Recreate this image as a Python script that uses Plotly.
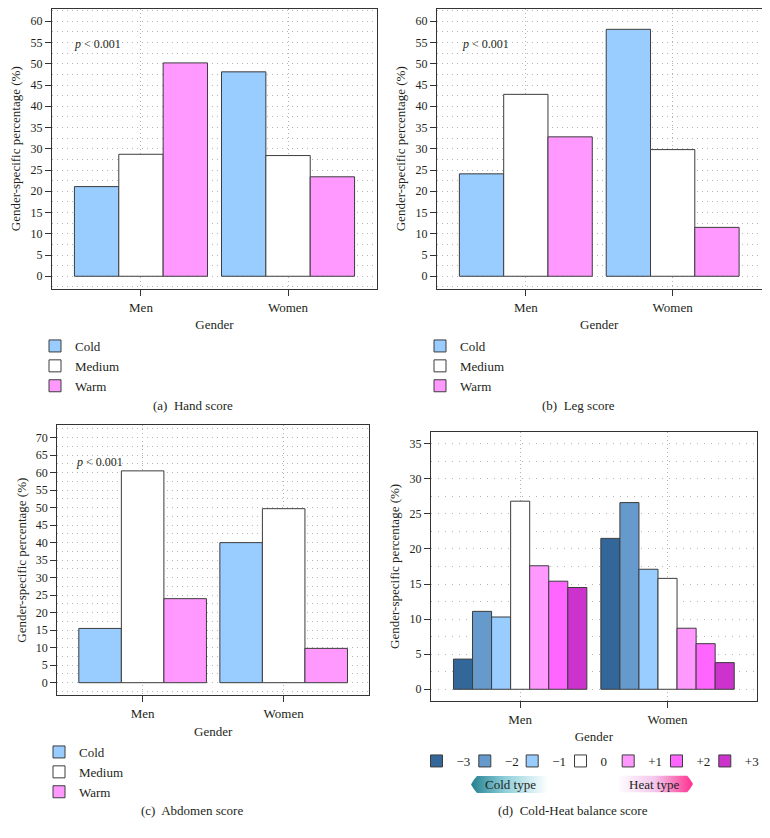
import base64
import plotly.graph_objects as go

# ---------------- data ----------------
categories = ["Men", "Women"]
three_labels = ["Cold", "Medium", "Warm"]

hand_cold = [21.1, 48.1]
hand_medium = [28.7, 28.4]
hand_warm = [50.2, 23.4]

leg_cold = [24.1, 58.1]
leg_medium = [42.8, 29.8]
leg_warm = [32.8, 11.5]

abd_cold = [15.5, 40.0]
abd_medium = [60.5, 49.7]
abd_warm = [24.0, 9.8]

balance_labels = ["\u22123", "\u22122", "\u22121", "0", "+1", "+2", "+3"]
balance_men = [4.3, 11.1, 10.3, 26.8, 17.6, 15.4, 14.5]
balance_women = [21.5, 26.6, 17.1, 15.8, 8.7, 6.5, 3.8]

captions = ["(a)  Hand score", "(b)  Leg score", "(c)  Abdomen score", "(d)  Cold-Heat balance score"]
p_text = "<i>p</i> &lt; 0.001"

# ---------------- styles ----------------
FONT = "Liberation Serif"
TXT = "#231f20"
three_colors = ["#99CCFF", "#FFFFFF", "#FF99FF"]
balance_colors = ["#336699", "#6699CC", "#99CCFF", "#FFFFFF", "#FF99FF", "#FF66FF", "#CC33CC"]
OUTLINE = "#3c3c3c"
GRID = "#b4b4b4"

# page is 770x838; the page body adds an 8px offset, so the figure is 762x822
OFF = 8
W, H = 762, 822
def px(x): return (x - OFF) / W
def py(y): return 1 - (y - OFF) / H

fig = go.Figure()

panels = [
    dict(xa="x", ya="y", leg="legend", series=[hand_cold, hand_medium, hand_warm]),
    dict(xa="x2", ya="y2", leg="legend2", series=[leg_cold, leg_medium, leg_warm]),
    dict(xa="x3", ya="y3", leg="legend3", series=[abd_cold, abd_medium, abd_warm]),
]
for p in panels:
    for lab, vals, col in zip(three_labels, p["series"], three_colors):
        fig.add_trace(go.Bar(
            x=categories, y=vals, name=lab, xaxis=p["xa"], yaxis=p["ya"],
            legend=p["leg"], marker=dict(color=col, line=dict(color=OUTLINE, width=1)),
            hoverinfo="skip"))

for i, lab in enumerate(balance_labels):
    fig.add_trace(go.Bar(
        x=categories, y=[balance_men[i], balance_women[i]], name=lab,
        xaxis="x4", yaxis="y4", legend="legend" + str(4 + i),
        marker=dict(color=balance_colors[i], line=dict(color=OUTLINE, width=1)),
        hoverinfo="skip"))

# axis geometry (pixel frames in page coordinates)
frames = {
    1: (52, 377, 8.5, 289, [-3, 63], "1px,4px"),
    2: (437, 761.5, 8.5, 289, [-3, 63], "1px,4px"),
    3: (57.3, 369, 425, 695.3, [-3.6, 73.6], "1px,4px"),
    4: (431, 756.7, 431.7, 701, [-1.67, 36.7], "1px,6px"),
}
layout_axes = {}
for k, (x0, x1, y0, y1, yr, dash) in frames.items():
    sfx = "" if k == 1 else str(k)
    layout_axes["xaxis" + sfx] = dict(
        domain=[px(x0), px(x1)], anchor="y" + sfx, range=[-0.605, 1.605],
        showline=True, mirror=True, linecolor="#333333", linewidth=1.2,
        ticks="outside", ticklen=6, tickcolor="#333333", tickwidth=1,
        showgrid=True, gridcolor=GRID, griddash="1px,3px", gridwidth=1,
        tickfont=dict(family=FONT, size=13, color=TXT),
        title=dict(text="Gender", font=dict(family=FONT, size=13, color=TXT), standoff=6),
        automargin=False, fixedrange=True)
    layout_axes["yaxis" + sfx] = dict(
        domain=[py(y1), py(y0)], anchor="x" + sfx, range=yr,
        dtick=5, tick0=0,
        showline=True, mirror=True, linecolor="#333333", linewidth=1.2,
        ticks="outside", ticklen=6, tickcolor="#333333", tickwidth=1,
        showgrid=True, gridcolor=GRID, griddash=dash, gridwidth=1,
        minor=dict(dtick=2.5, showgrid=True, gridcolor=GRID, griddash=dash, gridwidth=1),
        zeroline=False,
        tickfont=dict(family=FONT, size=12, color=TXT),
        title=dict(text="Gender-specific percentage (%)", font=dict(family=FONT, size=13, color=TXT), standoff=6),
        automargin=False, fixedrange=True)

leg_common = dict(font=dict(family=FONT, size=13, color=TXT), bgcolor="rgba(0,0,0,0)",
                  itemwidth=30, xanchor="left", yanchor="top", traceorder="normal",
                  itemclick=False, itemdoubleclick=False)
legends = dict(
    legend=dict(x=px(35), y=py(331), **leg_common),
    legend2=dict(x=px(420), y=py(331), **leg_common),
    legend3=dict(x=px(39), y=py(737), **leg_common),
)
# one small legend per balance-score entry (keeps the tight reference spacing)
d_swatch_centers = [437.5, 485.8, 533.2, 581.5, 629.2, 677.5, 725.8]
for i, c in enumerate(d_swatch_centers):
    legends["legend" + str(4 + i)] = dict(x=px(c - 21), y=py(746), orientation="h", **leg_common)

annotations = []
for cap, (cx, cy) in zip(captions, [(193.3, 405), (578.3, 405), (192.2, 810.7), (572.5, 810.7)]):
    annotations.append(dict(text=cap, x=px(cx), y=py(cy), xref="paper", yref="paper",
                            xanchor="center", yanchor="middle", showarrow=False,
                            font=dict(family=FONT, size=13, color=TXT)))
for (ax, ay) in [(71.7, 44.3), (460, 44.3), (74, 461.7)]:
    annotations.append(dict(text=p_text, x=px(ax), y=py(ay), xref="paper", yref="paper",
                            xanchor="left", yanchor="middle", showarrow=False,
                            font=dict(family=FONT, size=12, color=TXT)))

# gradient tags for Cold / Heat type
def svg_uri(svg):
    return "data:image/svg+xml;base64," + base64.b64encode(svg.encode()).decode()

cold_svg = ('<svg xmlns="http://www.w3.org/2000/svg" width="77" height="17" viewBox="0 0 77 17">'
            '<defs><linearGradient id="g" x1="0" y1="0" x2="1" y2="0">'
            '<stop offset="0" stop-color="#23808f"/><stop offset="0.45" stop-color="#8fd0dc"/>'
            '<stop offset="1" stop-color="#ffffff"/></linearGradient></defs>'
            '<path d="M0,8.5 Q3,3 6,0 L77,0 L77,17 L6,17 Q3,14 0,8.5 Z" fill="url(#g)"/></svg>')
heat_svg = ('<svg xmlns="http://www.w3.org/2000/svg" width="76" height="17" viewBox="0 0 76 17">'
            '<defs><linearGradient id="g" x1="0" y1="0" x2="1" y2="0">'
            '<stop offset="0" stop-color="#ffffff"/><stop offset="0.5" stop-color="#f3c6ec"/>'
            '<stop offset="1" stop-color="#ff2f8f"/></linearGradient></defs>'
            '<path d="M0,0 L70,0 Q73,3 76,8.5 Q73,14 70,17 L0,17 Z" fill="url(#g)"/></svg>')
images = [
    dict(source=svg_uri(cold_svg), xref="paper", yref="paper", x=px(471), y=py(776),
         sizex=77 / W, sizey=17 / H, xanchor="left", yanchor="top", sizing="stretch", layer="above"),
    dict(source=svg_uri(heat_svg), xref="paper", yref="paper", x=px(617), y=py(775.5),
         sizex=76 / W, sizey=17 / H, xanchor="left", yanchor="top", sizing="stretch", layer="above"),
]
annotations.append(dict(text="Cold type", x=px(510), y=py(784), xref="paper", yref="paper",
                        xanchor="center", yanchor="middle", showarrow=False,
                        font=dict(family=FONT, size=13, color=TXT)))
annotations.append(dict(text="Heat type", x=px(654), y=py(784), xref="paper", yref="paper",
                        xanchor="center", yanchor="middle", showarrow=False,
                        font=dict(family=FONT, size=13, color=TXT)))

fig.update_layout(
    width=W, height=H, margin=dict(l=0, r=0, t=0, b=0, autoexpand=False),
    paper_bgcolor="white", plot_bgcolor="white",
    barmode="group", bargap=0.095, bargroupgap=0,
    font=dict(family=FONT, size=12, color=TXT),
    annotations=annotations, images=images,
    **layout_axes, **legends,
)

fig.write_html("out.html")
